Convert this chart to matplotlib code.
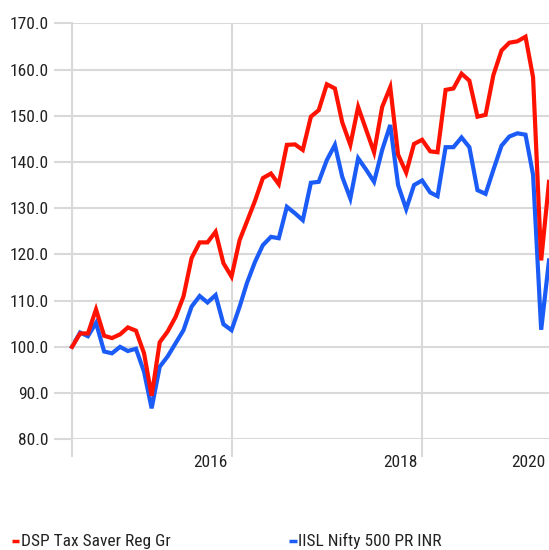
import pandas as pd
import matplotlib
matplotlib.use('Agg')
import matplotlib.pyplot as plt
import matplotlib.dates as mdates
from matplotlib import font_manager
from matplotlib.lines import Line2D


# month-end values, Apr 2015 .. Apr 2020, growth of 100
dates = pd.date_range('2015-04-30', periods=61, freq='ME')

fund_name = 'DSP Tax Saver Reg Gr'
fund = [100.0, 102.9, 102.9, 108.1, 102.4, 101.9, 102.7, 104.2, 103.5, 98.6,
        89.4, 101.0, 103.3, 106.5, 110.9, 119.2, 122.6, 122.6, 124.9, 118.1,
        115.2, 123.1, 127.1, 131.6, 136.5, 137.5, 135.2, 143.7, 143.8, 142.6,
        149.8, 151.2, 156.8, 155.9, 148.6, 143.7, 151.9, 146.9, 142.1, 151.9,
        156.2, 141.6, 137.7, 143.9, 144.8, 142.3, 142.1, 155.6, 155.9, 159.1,
        157.6, 149.8, 150.2, 158.8, 164.1, 165.8, 166.1, 167.1, 158.3, 118.7,
        135.7]

index_name = 'IISL Nifty 500 PR INR'
index = [100.0, 103.1, 102.3, 105.2, 99.0, 98.6, 100.0, 99.1, 99.6, 94.6,
         86.7, 95.7, 97.9, 100.8, 103.6, 108.7, 111.0, 109.6, 111.2, 104.9,
         103.6, 108.7, 113.8, 118.4, 122.0, 123.8, 123.5, 130.3, 128.9, 127.4,
         135.5, 135.7, 140.4, 143.7, 136.8, 132.1, 140.8, 138.3, 135.7, 142.6,
         148.0, 135.0, 129.8, 135.0, 136.0, 133.4, 132.6, 143.2, 143.2, 145.3,
         143.2, 133.9, 133.1, 138.3, 143.5, 145.5, 146.2, 145.9, 137.2, 103.7,
         118.7]

y_ticks = [80, 90, 100, 110, 120, 130, 140, 150, 160, 170]
year_marks = ['2016-12-31', '2018-12-31']
year_labels = ['2016', '2018', '2020']

RED = '#ff1200'
BLUE = '#1b5cf7'
GRID = '#d9d9d9'
TEXT = '#222222'

names = {f.name for f in font_manager.fontManager.ttflist}
family = 'Roboto'
for cand in ['Roboto Condensed', 'Liberation Sans Narrow']:
    if cand in names:
        family = cand
        break
plt.rcParams['font.family'] = [family, 'DejaVu Sans']

fig = plt.figure(figsize=(5.49, 5.50), dpi=100)
ax = fig.add_axes([72 / 549, 1 - 439.3 / 550, 1 - 72 / 549, (439.3 - 23.3) / 550])

ax.plot(dates, fund, color=RED, lw=3.0, solid_joinstyle='miter', zorder=3, clip_on=False)
ax.plot(dates, index, color=BLUE, lw=3.0, solid_joinstyle='miter', zorder=2, clip_on=False)

ax.set_xlim(dates[0], dates[-1])
ax.set_ylim(80, 170)
ax.set_yticks(y_ticks)
ax.set_yticklabels(['%.1f' % v for v in y_ticks])

xt = [mdates.date2num(dates[0])] + [mdates.date2num(pd.Timestamp(d)) for d in year_marks]
ax.set_xticks(xt)
ax.set_xticklabels([])
ax.grid(True, color=GRID, lw=1.5, zorder=0)
ax.tick_params(axis='both', length=13, width=1.5, color=GRID, labelsize=12.5, labelcolor=TEXT)
ax.tick_params(axis='y', pad=4)
for s in ['top', 'right', 'bottom']:
    ax.spines[s].set_visible(False)
ax.spines['left'].set_color(GRID)
ax.spines['left'].set_linewidth(1.5)

# year labels sit just left of the year-end gridline
label_pos = [pd.Timestamp(d) for d in year_marks] + [dates[-1]]
for d, lab in zip(label_pos, year_labels):
    ax.annotate(lab, xy=(mdates.date2num(d), 0), xycoords=('data', 'axes fraction'),
                xytext=(-4, -16), textcoords='offset pixels', ha='right', va='top',
                fontsize=12.5, color=TEXT, annotation_clip=False)

# legend along the bottom edge
for x0, col, name in [(11.5, RED, fund_name), (289, BLUE, index_name)]:
    fig.add_artist(Line2D([x0 / 549, (x0 + 7.5) / 549], [1 - 541 / 550] * 2,
                          color=col, lw=2.5, solid_capstyle='butt'))
    fig.text((x0 + 9.5) / 549, 1 - 546 / 550, name, ha='left', va='baseline',
             fontsize=12.5, color=TEXT)

fig.savefig('out.png', dpi=100)
